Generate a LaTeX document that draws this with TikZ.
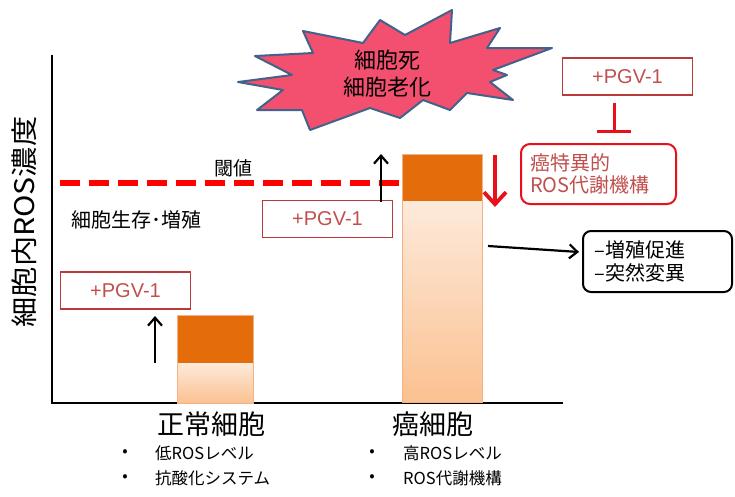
\documentclass[tikz,border=0pt]{standalone}
\usepackage{fontspec}
\setmainfont{Liberation Sans}
\newfontfamily\jp{Noto Sans CJK JP}
\usetikzlibrary{arrows.meta}
\definecolor{dkorange}{HTML}{E46C0A}
\definecolor{peachtop}{HTML}{FDEADB}
\definecolor{peachbot}{HTML}{FBC190}
\definecolor{barline}{HTML}{F4B183}
\definecolor{starfill}{HTML}{F2506E}
\definecolor{starline}{HTML}{42628C}
\definecolor{boxred}{HTML}{B83A3A}
\definecolor{txtred}{HTML}{C0504D}
\definecolor{brightred}{HTML}{E8101A}
\newcommand{\fs}[1]{\fontsize{#1}{#1}\selectfont}
\tikzset{
  pgvbox/.style={draw=boxred, line width=1.2pt, text=txtred, font=\fs{20}, minimum width=130pt, minimum height=37pt, inner sep=0pt},
  blackarrow/.style={line width=2.2pt, -{Straight Barb[length=8pt,width=14pt,line width=2.2pt]}},
  redarrow/.style={brightred, line width=3.8pt, -{Straight Barb[length=12pt,width=22pt,line width=3.8pt]}},
  lbl/.style={font=\jp\fs{#1}, inner sep=0pt},
}
\begin{document}
\begin{tikzpicture}[x=1pt,y=-1pt]
\useasboundingbox (0,0) rectangle (735,496);

% axes
\draw[line width=2.5pt] (52,55) -- (52,403) -- (563,403);
\node[lbl=27, rotate=90, xscale=1.12] (ylab) at (24,222) {細胞内ROS濃度};

% normal-cell bar
\fill[top color=peachtop, bottom color=peachbot] (177,363) rectangle (253,403);
\fill[dkorange] (177,315) rectangle (253,363);
\draw[barline, line width=0.6pt] (177,315) rectangle (253,403);

% cancer-cell bar
\fill[top color=peachtop, bottom color=peachbot] (402,201) rectangle (482,402);
\fill[dkorange] (402,154) rectangle (482,201);
\draw[barline, line width=0.6pt] (402,154) rectangle (482,402);

% threshold
\draw[red, line width=6pt, dash pattern=on 20pt off 9pt] (60,183) -- (400,183);
\node[lbl=19] (thr) at (233,168) {閾値};
\node[lbl=20] (surv) at (136,220) {細胞生存･増殖};

% explosion
\draw[fill=starfill, draw=starline, line width=2pt, line join=round]
  (238,82) -- (292,75) -- (255,56) -- (313,53) -- (303,31) -- (363,43) -- (380,20) -- (405,35)
  -- (452,10) -- (450,43) -- (500,28) -- (487,48) -- (552,48) -- (493,70) -- (507,75) -- (490,82)
  -- (513,100) -- (467,93) -- (450,110) -- (423,100) -- (400,118) -- (370,108) -- (310,130)
  -- (302,110) -- (257,110) -- (283,90) -- cycle;
\node[lbl=22, align=center] (death) at (387,74) {細胞死\\[5pt]細胞老化};

% PGV-1 boxes
\node[pgvbox] (pgvn) at (125.5,290.5) {+PGV-1};
\node[pgvbox] (pgvm) at (327.5,219) {+PGV-1};
\node[pgvbox] (pgvt) at (627.5,76.5) {+PGV-1};

% cancer-specific box
\node[draw=brightred, line width=2pt, rounded corners=9pt, minimum width=155pt, minimum height=60pt,
      text=txtred, font=\jp\fs{20}, align=left, inner sep=0pt, text width=137pt] (spec) at (598.5,174)
      {癌特異的\\[2pt]ROS代謝機構};

% effect box
\node[draw=black, line width=2pt, rounded corners=8pt, minimum width=149pt, minimum height=61pt,
      font=\jp\fs{20}, align=left, inner sep=0pt, text width=126pt] (eff) at (657.5,261.5)
      {–増殖促進\\[3pt]–突然変異};

% arrows
\coordinate (na1) at (155,363);
\coordinate (na2) at (155,316);
\draw[blackarrow] (na1) -- (na2);
\coordinate (ma1) at (381,202);
\coordinate (ma2) at (381,154);
\draw[blackarrow] (ma1) -- (ma2);
\coordinate (ra1) at (495,155);
\coordinate (ra2) at (495,207);
\draw[redarrow] (ra1) -- (ra2);
\coordinate (ia1) at (614,103);
\coordinate (ia2) at (614,133);
\draw[brightred, line width=3pt, -{Bar[width=34pt,line width=3pt]}] (ia1) -- (ia2);
\coordinate (ea1) at (488,246);
\coordinate (ea2) at (579,252);
\draw[blackarrow] (ea1) -- (ea2);

% category labels
\node[lbl=27] (normal) at (211,424) {正常細胞};
\node[lbl=27] (cancer) at (433,424) {癌細胞};
\node[lbl=16] (b1) at (125,453) {•};
\node[lbl=16] (b2) at (125,478) {•};
\node[lbl=16.5, anchor=west] (t1) at (155,453) {低ROSレベル};
\node[lbl=16.5, anchor=west] (t2) at (155,478) {抗酸化システム};
\node[lbl=16] (b3) at (372,453) {•};
\node[lbl=16] (b4) at (372,478) {•};
\node[lbl=16.5, anchor=west] (t3) at (403,453) {高ROSレベル};
\node[lbl=16.5, anchor=west] (t4) at (403,478) {ROS代謝機構};
\end{tikzpicture}
\end{document}
